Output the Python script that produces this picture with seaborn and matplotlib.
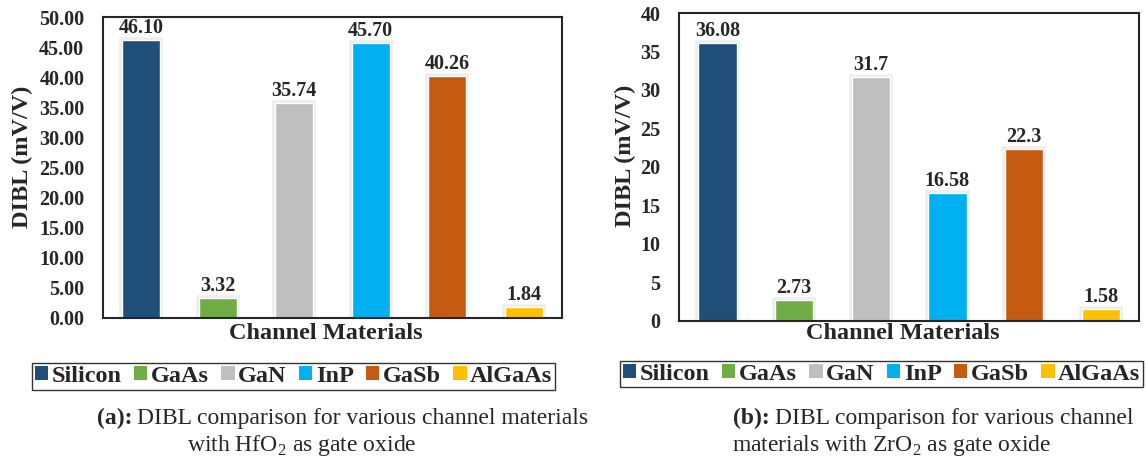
import pandas as pd
import matplotlib
matplotlib.use('Agg')
import matplotlib.pyplot as plt
import matplotlib.patheffects as pe
import seaborn as sns
from matplotlib.patches import Patch

sns.set_style('white')
SERIF = 'Liberation Serif'
plt.rcParams['font.family'] = 'serif'
plt.rcParams['font.serif'] = [SERIF, 'DejaVu Serif']
plt.rcParams['mathtext.fontset'] = 'custom'
plt.rcParams['mathtext.rm'] = SERIF

materials = ['Silicon', 'GaAs', 'GaN', 'InP', 'GaSb', 'AlGaAs']
colors = ['#1F4E79', '#70AD47', '#BFBFBF', '#00B0F0', '#C55A11', '#FFC000']
dibl_hfo2 = [46.10, 3.32, 35.74, 45.70, 40.26, 1.84]
labels_hfo2 = ['46.10', '3.32', '35.74', '45.70', '40.26', '1.84']
dibl_zro2 = [36.08, 2.73, 31.7, 16.58, 22.3, 1.58]
labels_zro2 = ['36.08', '2.73', '31.7', '16.58', '22.3', '1.58']
yticks_hfo2 = [0, 5, 10, 15, 20, 25, 30, 35, 40, 45, 50]
yticks_zro2 = [0, 5, 10, 15, 20, 25, 30, 35, 40]

palette = dict(zip(materials, colors))

fig = plt.figure(figsize=(11.46, 4.61), dpi=100)
ax1 = fig.add_axes([0.0899, 0.3102, 0.4005, 0.6529])
ax2 = fig.add_axes([0.5925, 0.3037, 0.4014, 0.6681])

# soft grey halo round the bars, as in the original
glow = [pe.Stroke(linewidth=4, foreground='#d8d8d8', alpha=0.45), pe.Normal()]


def panel(ax, vals, labels, yticks, fmt, ylab_x, xlab_y):
    df = pd.DataFrame({'material': materials, 'dibl': vals})
    sns.barplot(data=df, x='material', y='dibl', hue='material',
                palette=palette, saturation=1, width=0.5, legend=False, ax=ax)
    for p in ax.patches:
        p.set_path_effects(glow)
    for cont, lab in zip(ax.containers, labels):
        ax.bar_label(cont, labels=[lab], padding=1.5, fontsize=14.5,
                     fontweight='bold', family=SERIF)
    ax.set_xlim(-0.5, 5.5)
    ax.set_ylim(yticks[0], yticks[-1])
    ax.set_yticks(yticks, [fmt.format(t) for t in yticks])
    ax.set_xticks([])
    ax.tick_params(axis='y', length=0, pad=13.5, labelsize=14.5)
    for t in ax.get_yticklabels():
        t.set_fontweight('bold')
        t.set_family(SERIF)
    ax.set_xlabel('Channel Materials', fontsize=17.5, fontweight='bold',
                  family=SERIF, va='center')
    ax.xaxis.set_label_coords(0.486, xlab_y)
    ax.set_ylabel('DIBL (mV/V)', fontsize=17.5, fontweight='bold',
                  family=SERIF, va='center')
    ax.yaxis.set_label_coords(ylab_x, 0.535)
    for s in ax.spines.values():
        s.set_visible(True)
        s.set_color('#262626')
        s.set_linewidth(1.5)


panel(ax1, dibl_hfo2, labels_hfo2, yticks_hfo2, '{:.2f}', -0.1765, -0.05)
panel(ax2, dibl_zro2, labels_zro2, yticks_zro2, '{:d}', -0.1174, -0.039)

handles = [Patch(facecolor=c, edgecolor='none') for c in colors]
for cx, cy in [(0.2561, 0.1833), (0.7692, 0.1887)]:
    leg = fig.legend(handles, materials, loc='center', bbox_to_anchor=(cx, cy),
                     ncol=6, frameon=True, fancybox=False, handlelength=0.56,
                     handleheight=0.5, handletextpad=0.14, columnspacing=0.5,
                     borderpad=0.12, borderaxespad=0,
                     prop={'family': SERIF, 'weight': 'bold', 'size': 17.5})
    leg.get_frame().set_edgecolor('black')
    leg.get_frame().set_linewidth(1.0)

cap = dict(fontsize=17, va='center', family=SERIF)
fig.text(97 / 1146, 1 - 418 / 461, '(a):', fontweight='bold', **cap)
fig.text(137 / 1146, 1 - 418 / 461, 'DIBL comparison for various channel materials', **cap)
fig.text(187 / 1146, 1 - 445 / 461, r'with HfO$_2$ as gate oxide', **cap)
fig.text(733 / 1146, 1 - 418 / 461, '(b):', fontweight='bold', **cap)
fig.text(775 / 1146, 1 - 418 / 461, 'DIBL comparison for various channel', **cap)
fig.text(732 / 1146, 1 - 445 / 461, r'materials with ZrO$_2$ as gate oxide', **cap)

fig.savefig('out.png', dpi=100)
